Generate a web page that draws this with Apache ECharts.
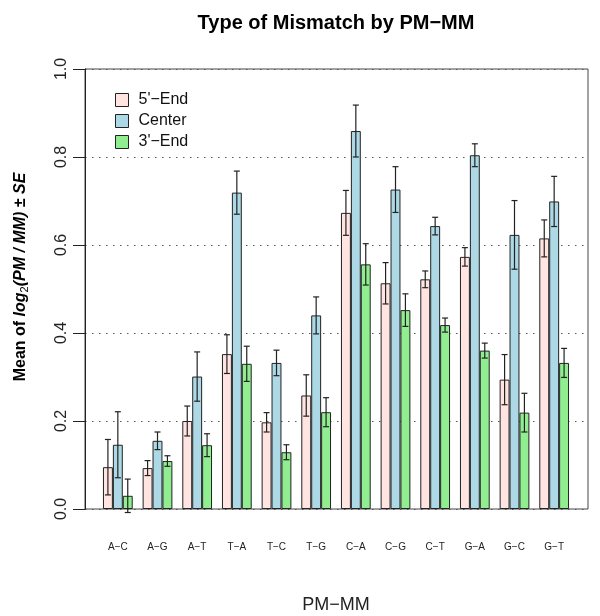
<!DOCTYPE html>
<html>
<head>
<meta charset="utf-8">
<script src="https://cdn.jsdelivr.net/npm/echarts@6/dist/echarts.min.js"></script>
<style>
  html, body { margin: 0; padding: 0; background: #fff; }
  #chart { width: 600px; height: 616px; }
</style>
</head>
<body>
<div id="chart"></div>
<script>
const categories = ['A\u2212C', 'A\u2212G', 'A\u2212T', 'T\u2212A', 'T\u2212C', 'T\u2212G', 'C\u2212A', 'C\u2212G', 'C\u2212T', 'G\u2212A', 'G\u2212C', 'G\u2212T']
const seriesNames = ["5'\u2212End", 'Center', "3'\u2212End"]

// means
const fiveEnd = [0.095, 0.093, 0.200, 0.352, 0.197, 0.258, 0.673, 0.513, 0.522, 0.573, 0.294, 0.615]
const center = [0.146, 0.155, 0.301, 0.719, 0.332, 0.440, 0.859, 0.726, 0.643, 0.804, 0.623, 0.699]
const threeEnd = [0.030, 0.109, 0.145, 0.330, 0.129, 0.220, 0.556, 0.452, 0.418, 0.360, 0.219, 0.332]

// standard errors
const fiveEndSE = [0.063, 0.017, 0.034, 0.044, 0.022, 0.047, 0.051, 0.047, 0.019, 0.021, 0.057, 0.042]
const centerSE = [0.075, 0.020, 0.056, 0.049, 0.029, 0.042, 0.059, 0.052, 0.020, 0.026, 0.078, 0.057]
const threeEndSE = [0.038, 0.012, 0.026, 0.040, 0.017, 0.033, 0.047, 0.037, 0.016, 0.017, 0.044, 0.033]

const yTicks = [0, 0.2, 0.4, 0.6, 0.8, 1.0]

const colors = ['#FFE4E1', '#ADD8E6', '#90EE90']
const font = 'Liberation Sans, Arial, sans-serif'

const chart = echarts.init(document.getElementById('chart'))

const barSeries = (name, data, color) => ({
  name,
  type: 'bar',
  xAxisIndex: 1,
  yAxisIndex: 1,
  data,
  barGap: '0%',
  barCategoryGap: '25%',
  itemStyle: {
    color,
    borderColor: '#222',
    borderWidth: 1
  }
})

// error bars, k = -1/0/1 shifts to the bar position inside the group
const errSeries = (means, se, k) => ({
  type: 'custom',
  xAxisIndex: 1,
  yAxisIndex: 1,
  silent: true,
  z: 5,
  encode: { x: 0, y: [1, 2] },
  data: means.map((v, i) => [i, v - se[i], v + se[i]]),
  renderItem: (params, api) => {
    const band = api.size([1, 0])[0]
    const x = api.coord([api.value(0), 0])[0] + k * band * 0.25
    const lo = api.coord([api.value(0), api.value(1)])[1]
    const hi = api.coord([api.value(0), api.value(2)])[1]
    const style = { stroke: '#222', lineWidth: 1.2 }
    return {
      type: 'group',
      children: [
        { type: 'line', shape: { x1: x, y1: lo, x2: x, y2: hi }, style },
        { type: 'line', shape: { x1: x - 3, y1: lo, x2: x + 3, y2: lo }, style },
        { type: 'line', shape: { x1: x - 3, y1: hi, x2: x + 3, y2: hi }, style }
      ]
    }
  }
})

const option = {
  animation: false,
  textStyle: { fontFamily: font },
  title: {
    text: 'Type of Mismatch by PM\u2212MM',
    left: 336,
    textAlign: 'center',
    top: 13,
    padding: 0,
    textStyle: { fontSize: 20, fontWeight: 'bold', color: '#000', fontFamily: font }
  },
  legend: {
    orient: 'vertical',
    left: 110,
    top: 87,
    icon: 'rect',
    itemWidth: 13,
    itemHeight: 13,
    itemGap: 5,
    data: seriesNames,
    itemStyle: { borderColor: '#222', borderWidth: 1 },
    textStyle: { fontSize: 16, color: '#111', padding: [0, 0, 0, 5], fontFamily: font }
  },
  grid: [
    { left: 85, right: 12, top: 69, bottom: 107, show: true, borderColor: '#444', borderWidth: 1, outerBoundsMode: 'none' },
    { left: 98, right: 26, top: 69, bottom: 107, outerBoundsMode: 'none' }
  ],
  xAxis: [
    { type: 'value', gridIndex: 0, show: false, min: 0, max: 1 },
    {
      type: 'category',
      gridIndex: 1,
      data: categories,
      axisLine: { show: false },
      axisTick: { show: false },
      axisLabel: { fontSize: 10, color: '#222', margin: 33, interval: 0 },
      name: 'PM\u2212MM',
      nameLocation: 'middle',
      nameGap: 87,
      nameTextStyle: { fontSize: 18, color: '#222' }
    }
  ],
  yAxis: [
    {
      type: 'value',
      gridIndex: 0,
      min: yTicks[0],
      max: yTicks[yTicks.length - 1],
      interval: 0.2,
      axisLine: { show: true, lineStyle: { color: '#222' } },
      axisTick: { show: true, length: 12, lineStyle: { color: '#222' } },
      axisLabel: {
        rotate: 90,
        margin: 15,
        fontSize: 16,
        color: '#222',
        formatter: (v) => v.toFixed(1)
      },
      splitLine: { show: true, lineStyle: { color: '#555', type: [1.5, 5.5], width: 1 } },
      name: '{b|Mean of }{bi|log}{sub|2}{bi|(PM / MM)}{b| \u00b1 }{bi|SE}',
      nameLocation: 'middle',
      nameGap: 55,
      nameTextStyle: {
        padding: [0, 0, 0, 24],
        rich: {
          b: { fontSize: 16, fontWeight: 'bold', color: '#000', fontFamily: font },
          bi: { fontSize: 16, fontWeight: 'bold', fontStyle: 'italic', color: '#000', fontFamily: font },
          sub: { fontSize: 11, color: '#000', fontFamily: font, padding: [7, 0, 0, 0] }
        }
      }
    },
    { type: 'value', gridIndex: 1, min: 0, max: 1, show: false }
  ],
  series: [
    barSeries(seriesNames[0], fiveEnd, colors[0]),
    barSeries(seriesNames[1], center, colors[1]),
    barSeries(seriesNames[2], threeEnd, colors[2]),
    errSeries(fiveEnd, fiveEndSE, -1),
    errSeries(center, centerSE, 0),
    errSeries(threeEnd, threeEndSE, 1)
  ]
}

chart.setOption(option)
</script>
</body>
</html>
